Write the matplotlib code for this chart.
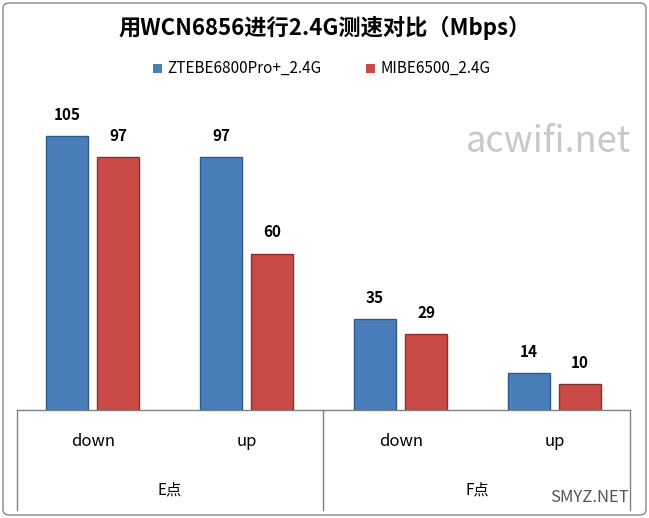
import matplotlib
matplotlib.use("Agg")
import matplotlib.pyplot as plt
import numpy as np
from matplotlib.patches import FancyBboxPatch, Rectangle
from matplotlib.lines import Line2D

plt.rcParams['font.family'] = ['Noto Sans CJK SC', 'DejaVu Sans']

sub_labels = ["down", "up", "down", "up"]
groups = ["E点", "F点"]
series = ["ZTEBE6800Pro+_2.4G", "MIBE6500_2.4G"]
zte = [105, 97, 35, 14]
mi = [97, 60, 29, 10]

W, H = 649, 518
fig = plt.figure(figsize=(W/100, H/100), dpi=100)
fig.patches.append(FancyBboxPatch((3/W, 3/H), 1-6/W, 1-6/H, boxstyle="round,pad=0,rounding_size=0.01",
                                  transform=fig.transFigure, fc="none", ec="#888888", lw=1))
left, right, base, top = 17, 630, 410, 97
ax = fig.add_axes([left/W, 1-base/H, (right-left)/W, (base-top)/H])
ax.set_xlim(0, 4)
ax.set_ylim(0, 120)
ax.axis("off")
bw = 42/153.25
xb = (np.array([67, 221, 375, 529]) - left)/153.25
xr = (np.array([118, 272, 426, 580]) - left)/153.25
for xs, vals, fc, ec in [(xb, zte, "#4a7ebb", "#2c5a8f"), (xr, mi, "#c94a47", "#8c2f2d")]:
    ax.bar(xs, vals, width=bw, color=fc, edgecolor=ec, linewidth=1)
    for xi, v in zip(xs, vals):
        ax.text(xi, v + 5, str(v), ha="center", va="bottom", fontsize=11, fontweight="bold")

def fx(px): return px/W
def fy(py): return 1-py/H
lc = "#808080"
fig.add_artist(Line2D([fx(left), fx(right)], [fy(base), fy(base)], color=lc, lw=1))
for px in [left, 323, right]:
    fig.add_artist(Line2D([fx(px), fx(px)], [fy(base), fy(510)], color=lc, lw=1))
for c, lab in zip([93, 247, 401, 555], sub_labels):
    fig.text(fx(c), fy(441), lab, ha="center", va="center", fontsize=12)
for c, lab in zip([170, 477], groups):
    fig.text(fx(c), fy(490), lab, ha="center", va="center", fontsize=11)

fig.text(0.5, fy(28), "用WCN6856进行2.4G测速对比（Mbps）", ha="center", va="center",
         fontsize=16, fontweight="bold")
for sx, c, lab in [(153, "#4a7ebb", series[0]), (366, "#c94a47", series[1])]:
    fig.patches.append(Rectangle((fx(sx), fy(73)), 9/W, 9/H, transform=fig.transFigure, fc=c, ec="none"))
    fig.text(fx(sx+14), fy(68), lab, ha="left", va="center", fontsize=11)
fig.text(fx(548), fy(142), "acwifi.net", ha="center", va="center", fontsize=26, color="#c8c8c8")
fig.text(fx(590), fy(498), "SMYZ.NET", ha="center", va="center", fontsize=12, color="#555555")
fig.savefig("out.png", dpi=100)
